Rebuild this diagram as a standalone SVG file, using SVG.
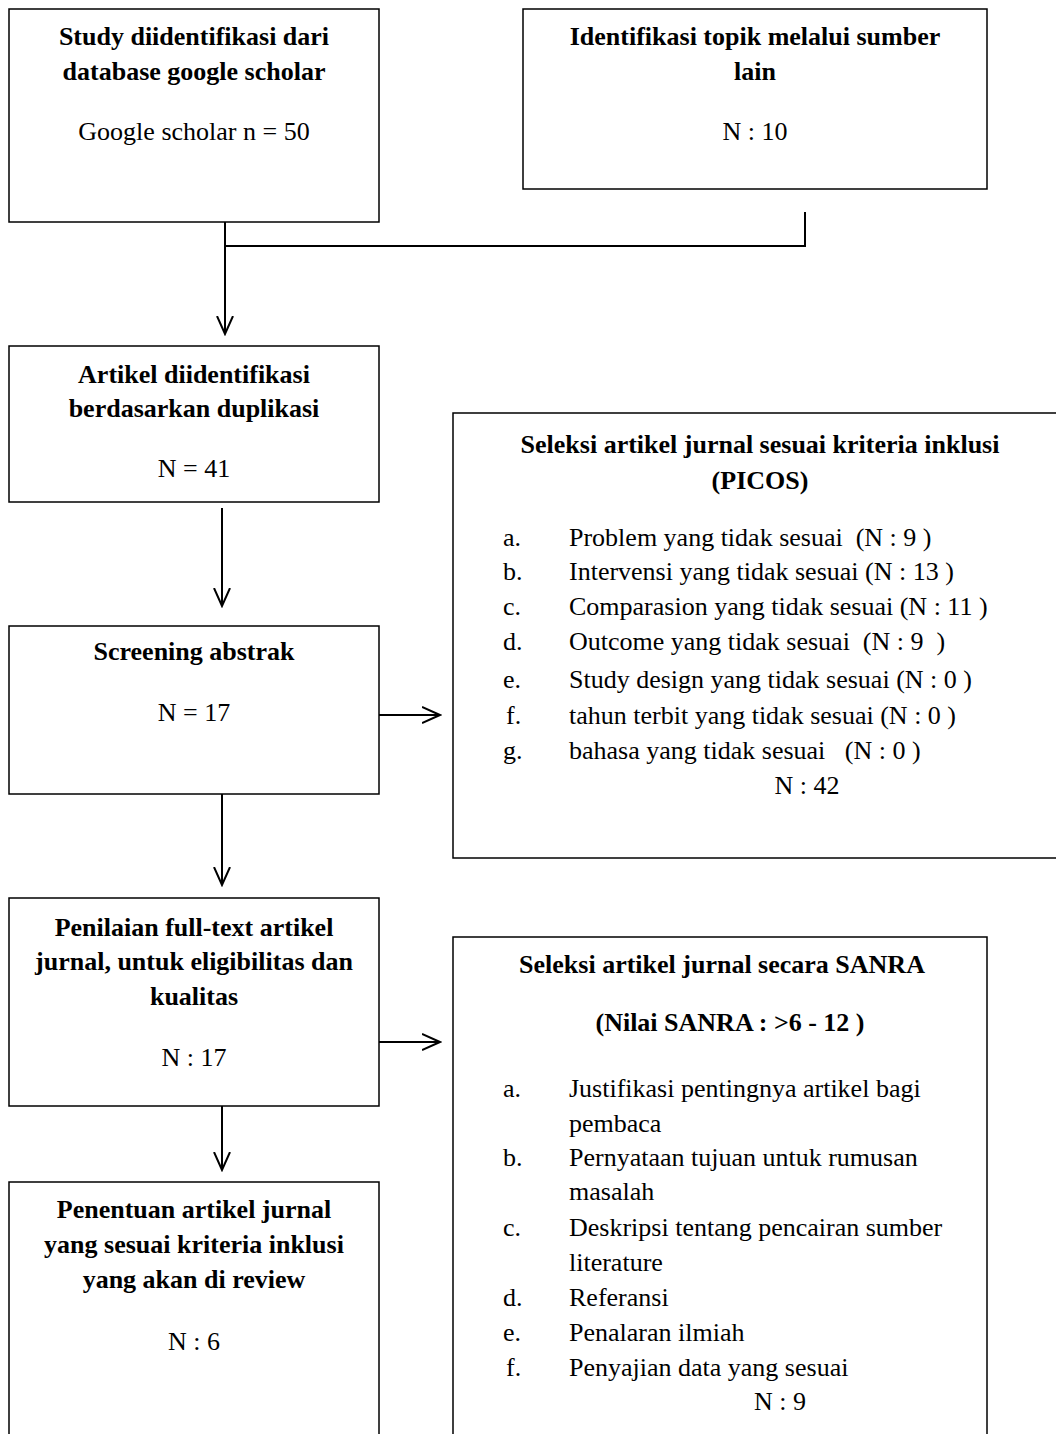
<svg xmlns="http://www.w3.org/2000/svg" width="1056" height="1434" viewBox="0 0 1056 1434">
<style>
.box{fill:#fff;stroke:#000;stroke-width:1.5}
.c{fill:none;stroke:#000;stroke-width:2}
text{font-family:"Liberation Serif","Times New Roman",serif;font-size:26px;fill:#000;white-space:pre}
.b{font-weight:bold}
.m{text-anchor:middle}
</style>
<defs>
<marker id="ah" viewBox="0 0 20 20" refX="18" refY="10" markerWidth="20" markerHeight="20" markerUnits="userSpaceOnUse" orient="auto">
<path d="M0,2 L18,10 L0,18" fill="none" stroke="#000" stroke-width="2"/>
</marker>
</defs>
<rect width="1056" height="1434" fill="#fff"/>
<g id="connectors">
<path class="c" d="M225,222 V246 H805 V212"/>
<path class="c" d="M225,246 V334" marker-end="url(#ah)"/>
<path class="c" d="M222,508 V606" marker-end="url(#ah)"/>
<path class="c" d="M379,715 H440" marker-end="url(#ah)"/>
<path class="c" d="M222,794 V885" marker-end="url(#ah)"/>
<path class="c" d="M379,1042 H440" marker-end="url(#ah)"/>
<path class="c" d="M222,1106 V1170" marker-end="url(#ah)"/>
</g>
<g id="n1">
<rect class="box" x="9" y="9" width="370" height="213"/>
<text class="b m" x="194" y="45">Study diidentifikasi dari</text>
<text class="b m" x="194" y="80">database google scholar</text>
<text class="m" x="194" y="140">Google scholar n = 50</text>
</g>
<g id="n2">
<rect class="box" x="523" y="9" width="464" height="180"/>
<text class="b m" x="755" y="45">Identifikasi topik melalui sumber</text>
<text class="b m" x="755" y="80">lain</text>
<text class="m" x="755" y="140">N : 10</text>
</g>
<g id="n3">
<rect class="box" x="9" y="346" width="370" height="156"/>
<text class="b m" x="194" y="383">Artikel diidentifikasi</text>
<text class="b m" x="194" y="417">berdasarkan duplikasi</text>
<text class="m" x="194" y="477">N = 41</text>
</g>
<g id="n4">
<rect class="box" x="453" y="413" width="610" height="445"/>
<text class="b m" x="760" y="453">Seleksi artikel jurnal sesuai kriteria inklusi</text>
<text class="b m" x="760" y="489">(PICOS)</text>
<text x="503" y="546">a.</text><text x="569" y="546">Problem yang tidak sesuai  (N : 9 )</text>
<text x="503" y="580">b.</text><text x="569" y="580">Intervensi yang tidak sesuai (N : 13 )</text>
<text x="503" y="615">c.</text><text x="569" y="615">Comparasion yang tidak sesuai (N : 11 )</text>
<text x="503" y="650">d.</text><text x="569" y="650">Outcome yang tidak sesuai  (N : 9  )</text>
<text x="503" y="688">e.</text><text x="569" y="688">Study design yang tidak sesuai (N : 0 )</text>
<text x="506" y="724">f.</text><text x="569" y="724">tahun terbit yang tidak sesuai (N : 0 )</text>
<text x="503" y="759">g.</text><text x="569" y="759">bahasa yang tidak sesuai   (N : 0 )</text>
<text class="m" x="807" y="794">N : 42</text>
</g>
<g id="n5">
<rect class="box" x="9" y="626" width="370" height="168"/>
<text class="b m" x="194" y="660">Screening abstrak</text>
<text class="m" x="194" y="721">N = 17</text>
</g>
<g id="n6">
<rect class="box" x="9" y="898" width="370" height="208"/>
<text class="b m" x="194" y="936">Penilaian full-text artikel</text>
<text class="b m" x="194" y="970">jurnal, untuk eligibilitas dan</text>
<text class="b m" x="194" y="1005">kualitas</text>
<text class="m" x="194" y="1066">N : 17</text>
</g>
<g id="n7">
<rect class="box" x="453" y="937" width="534" height="510"/>
<text class="b m" x="722" y="973">Seleksi artikel jurnal secara SANRA</text>
<text class="b m" x="730" y="1031">(Nilai SANRA : &gt;6 - 12 )</text>
<text x="503" y="1097">a.</text><text x="569" y="1097">Justifikasi pentingnya artikel bagi</text>
<text x="569" y="1132">pembaca</text>
<text x="503" y="1166">b.</text><text x="569" y="1166">Pernyataan tujuan untuk rumusan</text>
<text x="569" y="1200">masalah</text>
<text x="503" y="1236">c.</text><text x="569" y="1236">Deskripsi tentang pencairan sumber</text>
<text x="569" y="1271">literature</text>
<text x="503" y="1306">d.</text><text x="569" y="1306">Referansi</text>
<text x="503" y="1341">e.</text><text x="569" y="1341">Penalaran ilmiah</text>
<text x="506" y="1376">f.</text><text x="569" y="1376">Penyajian data yang sesuai</text>
<text class="m" x="780" y="1410">N : 9</text>
</g>
<g id="n8">
<rect class="box" x="9" y="1182" width="370" height="265"/>
<text class="b m" x="194" y="1218">Penentuan artikel jurnal</text>
<text class="b m" x="194" y="1253">yang sesuai kriteria inklusi</text>
<text class="b m" x="194" y="1288">yang akan di review</text>
<text class="m" x="194" y="1350">N : 6</text>
</g>
</svg>
